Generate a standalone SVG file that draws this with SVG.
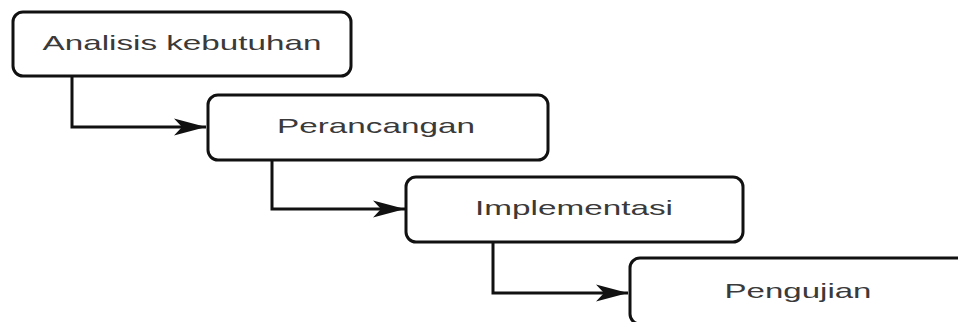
<svg xmlns="http://www.w3.org/2000/svg" width="958" height="322" viewBox="0 0 958 322">
<style>
.box{fill:#fff;stroke:#111;stroke-width:3}
.lbl{font-family:"Liberation Sans",Arial,sans-serif;font-size:21px;fill:#3a3a3a;text-anchor:middle}
.con{fill:none;stroke:#111;stroke-width:3}
</style>
<defs>
<marker id="arr" markerUnits="userSpaceOnUse" markerWidth="34" markerHeight="20" refX="32" refY="9" orient="auto" viewBox="0 0 34 20">
<path d="M32 9 L0 0.5 L8 9 L0 17.5 Z" fill="#111"/>
</marker>
</defs>
<rect width="958" height="322" fill="#fff"/>
<g id="connectors">
<path class="con" d="M72 76 V127 H206" marker-end="url(#arr)"/>
<path class="con" d="M272 160 V209 H405" marker-end="url(#arr)"/>
<path class="con" d="M493 242 V293 H628" marker-end="url(#arr)"/>
</g>
<g id="n1">
<rect class="box" x="13" y="12" width="338" height="64" rx="10"/>
<text class="lbl" x="182" y="50" textLength="279" lengthAdjust="spacingAndGlyphs">Analisis kebutuhan</text>
</g>
<g id="n2">
<rect class="box" x="208" y="95" width="340" height="65" rx="10"/>
<text class="lbl" x="376" y="133" textLength="198" lengthAdjust="spacingAndGlyphs">Perancangan</text>
</g>
<g id="n3">
<rect class="box" x="406" y="177" width="337" height="65" rx="10"/>
<text class="lbl" x="574" y="215" textLength="198" lengthAdjust="spacingAndGlyphs">Implementasi</text>
</g>
<g id="n4">
<rect class="box" x="630" y="258" width="338" height="66" rx="10"/>
<text class="lbl" x="798" y="298" textLength="147" lengthAdjust="spacingAndGlyphs">Pengujian</text>
</g>
</svg>
